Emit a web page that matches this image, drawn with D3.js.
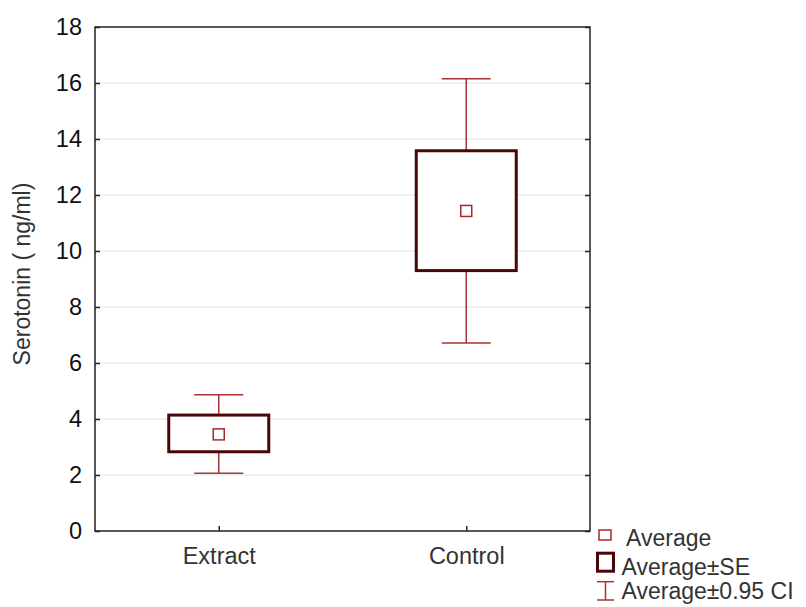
<!DOCTYPE html>
<html>
<head>
<meta charset="utf-8">
<script src="https://cdn.jsdelivr.net/npm/d3@7"></script>
<style>
  body { margin: 0; background: #fff; }
  text { font-family: "Liberation Sans", Arial, sans-serif; }
</style>
</head>
<body>
<div id="chart"></div>
<script>
// data
const groups = ["Extract", "Control"];
const means = [3.45, 11.43];
const seLow = [2.83, 9.30];
const seHigh = [4.14, 13.58];
const ciLow = [2.06, 6.71];
const ciHigh = [4.87, 16.15];
const yTicks = [0, 2, 4, 6, 8, 10, 12, 14, 16, 18];

const W = 806, H = 607;
const margin = {top: 27, right: 216, bottom: 76, left: 95};
const width = W - margin.left - margin.right,
      height = H - margin.top - margin.bottom;

const svg = d3.select("#chart").append("svg")
    .attr("width", W)
    .attr("height", H);

const g = svg.append("g")
    .attr("transform", "translate(" + margin.left + "," + margin.top + ")");

const y = d3.scaleLinear().domain([0, 18]).range([height, 0]);
const x = d3.scalePoint().domain(groups).range([0, width]).padding(0.5);

// grid lines
g.append("g")
    .selectAll("line")
    .data(yTicks.slice(1, -1))
    .enter().append("line")
    .attr("x1", 0).attr("x2", width)
    .attr("y1", d => y(d)).attr("y2", d => y(d))
    .attr("stroke", "#e2e2e2")
    .attr("stroke-width", 1);

// frame
g.append("rect")
    .attr("width", width).attr("height", height)
    .attr("fill", "none")
    .attr("stroke", "#222")
    .attr("stroke-width", 1.5);

// left axis, ticks inward
const yAxis = g.append("g")
    .call(d3.axisLeft(y).tickValues(yTicks).tickSize(-5).tickPadding(13));
yAxis.select(".domain").remove();
yAxis.selectAll("line").attr("stroke", "#222").attr("stroke-width", 1.5);
yAxis.selectAll("text").style("font-size", "23.5px").attr("fill", "#111");

// right axis ticks, inward
const yAxisR = g.append("g")
    .attr("transform", "translate(" + width + ",0)")
    .call(d3.axisRight(y).tickValues(yTicks).tickSize(-5).tickFormat(""));
yAxisR.select(".domain").remove();
yAxisR.selectAll("line").attr("stroke", "#222").attr("stroke-width", 1.5);

// bottom axis, ticks inward
const xAxis = g.append("g")
    .attr("transform", "translate(0," + height + ")")
    .call(d3.axisBottom(x).tickSize(-5).tickPadding(16));
xAxis.select(".domain").remove();
xAxis.selectAll("line").attr("stroke", "#222").attr("stroke-width", 1.5);
xAxis.selectAll("text").style("font-size", "23.5px").attr("fill", "#333");

// y label
svg.append("text")
    .attr("transform", "translate(30," + (margin.top + height / 2 - 5) + ") rotate(-90)")
    .attr("text-anchor", "middle")
    .style("font-size", "23px")
    .attr("fill", "#333")
    .text("Serotonin ( ng/ml)");

const boxW = 100, capW = 49, meanS = 11;
const whiskerColor = "#a83232", boxColor = "#4a0508", meanColor = "#a82828";

const items = groups.map((d, i) => ({
    name: d, mean: means[i], seL: seLow[i], seH: seHigh[i], ciL: ciLow[i], ciH: ciHigh[i]
}));

const grp = g.selectAll(".grp")
    .data(items)
    .enter().append("g")
    .attr("class", "grp");

// whiskers
grp.append("line")
    .attr("x1", d => x(d.name)).attr("x2", d => x(d.name))
    .attr("y1", d => y(d.ciH)).attr("y2", d => y(d.seH))
    .attr("stroke", whiskerColor).attr("stroke-width", 1.5);
grp.append("line")
    .attr("x1", d => x(d.name)).attr("x2", d => x(d.name))
    .attr("y1", d => y(d.seL)).attr("y2", d => y(d.ciL))
    .attr("stroke", whiskerColor).attr("stroke-width", 1.5);
grp.append("line")
    .attr("x1", d => x(d.name) - capW / 2).attr("x2", d => x(d.name) + capW / 2)
    .attr("y1", d => y(d.ciH)).attr("y2", d => y(d.ciH))
    .attr("stroke", whiskerColor).attr("stroke-width", 1.5);
grp.append("line")
    .attr("x1", d => x(d.name) - capW / 2).attr("x2", d => x(d.name) + capW / 2)
    .attr("y1", d => y(d.ciL)).attr("y2", d => y(d.ciL))
    .attr("stroke", whiskerColor).attr("stroke-width", 1.5);

// SE box
grp.append("rect")
    .attr("x", d => x(d.name) - boxW / 2)
    .attr("y", d => y(d.seH))
    .attr("width", boxW)
    .attr("height", d => y(d.seL) - y(d.seH))
    .attr("fill", "#fff")
    .attr("stroke", boxColor).attr("stroke-width", 3);

// mean square
grp.append("rect")
    .attr("x", d => x(d.name) - meanS / 2)
    .attr("y", d => y(d.mean) - meanS / 2)
    .attr("width", meanS).attr("height", meanS)
    .attr("fill", "#fff")
    .attr("stroke", meanColor).attr("stroke-width", 1.5);

// legend
const lg = svg.append("g").attr("transform", "translate(597,528)");
lg.append("rect")
    .attr("x", 2).attr("y", 2).attr("width", 12).attr("height", 10)
    .attr("fill", "#fff").attr("stroke", meanColor).attr("stroke-width", 1.5);
lg.append("text").attr("x", 29).attr("y", 18).style("font-size", "23px").attr("fill", "#333").text("Average");

lg.append("rect")
    .attr("x", 0.5).attr("y", 25.2).attr("width", 16).attr("height", 18)
    .attr("fill", "#fff").attr("stroke", boxColor).attr("stroke-width", 3);
lg.append("text").attr("x", 24.5).attr("y", 46.5).style("font-size", "23px").attr("fill", "#333").text("Average±SE");

lg.append("line").attr("x1", 0).attr("x2", 17).attr("y1", 53.7).attr("y2", 53.7)
    .attr("stroke", whiskerColor).attr("stroke-width", 1.5);
lg.append("line").attr("x1", 8.5).attr("x2", 8.5).attr("y1", 53.7).attr("y2", 72)
    .attr("stroke", whiskerColor).attr("stroke-width", 1.5);
lg.append("line").attr("x1", 0).attr("x2", 17).attr("y1", 72).attr("y2", 72)
    .attr("stroke", whiskerColor).attr("stroke-width", 1.5);
lg.append("text").attr("x", 24.5).attr("y", 71).style("font-size", "23px").attr("fill", "#333").text("Average±0.95 CI");
</script>
</body>
</html>
